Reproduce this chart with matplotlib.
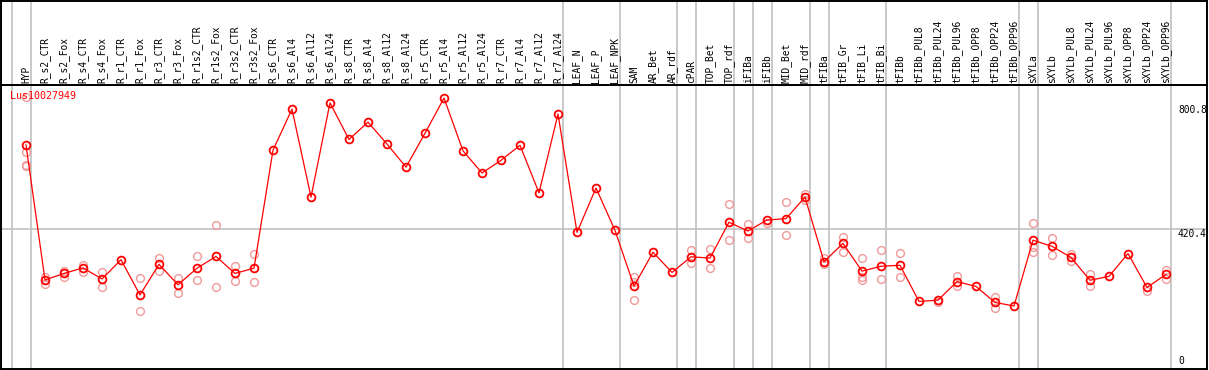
import matplotlib
matplotlib.use("Agg")
import matplotlib.pyplot as plt
import matplotlib.transforms as mtransforms

categories = ["HYP", "R_s2_CTR", "R_s2_Fox", "R_s4_CTR", "R_s4_Fox", "R_r1_CTR", "R_r1_Fox",
              "R_r3_CTR", "R_r3_Fox", "R_r1s2_CTR", "R_r1s2_Fox", "R_r3s2_CTR", "R_r3s2_Fox",
              "R_s6_CTR", "R_s6_Al4", "R_s6_Al12", "R_s6_Al24", "R_s8_CTR", "R_s8_Al4",
              "R_s8_Al12", "R_s8_Al24", "R_r5_CTR", "R_r5_Al4", "R_r5_Al12", "R_r5_Al24",
              "R_r7_CTR", "R_r7_Al4", "R_r7_Al12", "R_r7_Al24", "LEAF_N", "LEAF_P", "LEAF_NPK",
              "SAM", "AR_Bet", "AR_rdf", "cPAR", "TOP_Bet", "TOP_rdf", "iFIBa", "iFIBb",
              "MID_Bet", "MID_rdf", "tFIBa", "tFIB_Gr", "tFIB_Li", "tFIB_Bi", "tFIBb",
              "tFIBb_PUL8", "tFIBb_PUL24", "tFIBb_PUL96", "tFIBb_OPP8", "tFIBb_OPP24",
              "tFIBb_OPP96", "sXYLa", "sXYLb", "sXYLb_PUL8", "sXYLb_PUL24", "sXYLb_PUL96",
              "sXYLb_OPP8", "sXYLb_OPP24", "sXYLb_OPP96"]

mean_values = [678, 264, 284, 301, 267, 326, 218, 312, 249, 300, 336, 284, 300,
               662, 788, 518, 807, 695, 748, 681, 610, 714, 822, 660, 592, 631, 677, 531, 773,
               410, 546, 416, 245, 349, 287, 335, 331, 441, 414, 448, 452, 518,
               320, 376, 291, 306, 309, 198, 202, 259, 244, 195, 184,
               386, 367, 333, 263, 275, 345, 241, 281]

# replicate measurements (category index, value)
rep_index = [0, 0, 0, 0, 1, 1, 2, 2, 3, 3, 4, 4, 6, 6, 7, 7, 8, 8, 9, 9, 10, 10, 11, 11, 12, 12,
             32, 32, 32, 35, 35, 36, 36, 37, 37, 38, 38, 39, 40, 40, 41, 41, 42, 42, 43, 43,
             44, 44, 44, 45, 45, 46, 46, 48, 49, 49, 51, 51, 53, 53, 53, 54, 54, 55, 55,
             56, 56, 59, 60, 60]
rep_values = [825, 656, 615, 616, 274, 252, 292, 274, 311, 287, 287, 241, 269, 168, 331, 292,
              269, 224, 337, 263, 432, 241, 306, 260, 343, 257,
              272, 202, 259, 356, 317, 359, 300, 496, 387, 436, 392, 440, 502, 401, 528, 509,
              330, 313, 396, 349, 332, 272, 263, 355, 266, 346, 273, 195, 277, 245, 212, 179,
              438, 366, 351, 392, 339, 344, 322, 281, 245, 231, 295, 266]

separators = [-0.73, 0.27, 28.27, 31.27, 34.27, 35.27, 37.27, 38.27, 39.27, 41.27, 42.27,
              45.27, 52.27, 53.27, 60.27]
axis_labels = ["800.8", "420.4", "0"]
axis_label_values = [800.8, 420.4, 0]
title = "Lus10027949"

W, H = 1209, 370
fig = plt.figure(figsize=(W / 100, H / 100), dpi=100)
fig.patch.set_facecolor("white")

xlim = ((1 - 26) / 19.0, (1207 - 26) / 19.0)
header_px = 85
ax = fig.add_axes([1 / W, 1 / H, 1206 / W, (369 - header_px) / H])
hx = fig.add_axes([1 / W, (H - header_px) / H, 1206 / W, (header_px - 0.5) / H], sharex=ax)

mono = "DejaVu Sans Mono"
grid_c = "#c0c0c0"

for a in (ax, hx):
    a.set_xlim(*xlim)
    for s in a.spines.values():
        s.set_color("black")
        s.set_linewidth(1.4)
    a.tick_params(left=False, bottom=False, labelleft=False, labelbottom=False)
    for sx in separators:
        a.axvline(sx, color=grid_c, lw=1.2, zorder=0)

hx.set_ylim(0, 1)
ax.set_ylim(-9.2, 862)
ax.axhline(420.4, color=grid_c, lw=1.2, zorder=0)

xs = list(range(len(categories)))
ax.plot(rep_index, rep_values, linestyle="none", marker="o", markersize=5.6,
        markerfacecolor="none", markeredgecolor="#f09a9a", markeredgewidth=1.0, zorder=2)
ax.plot(xs, mean_values, color="#ff0000", lw=0.9, marker="o", markersize=5.6,
        markerfacecolor="none", markeredgecolor="#ff0000", markeredgewidth=1.3, zorder=3)

trans_h = mtransforms.blended_transform_factory(hx.transData, hx.transAxes)
for i, c in enumerate(categories):
    hx.text(i, 2.5 / header_px, c, rotation=90, ha="center", va="bottom",
            fontsize=6.9, family=mono, color="black", transform=trans_h)

label_x = (1178 - 26) / 19.0
for lab, v in zip(axis_labels, axis_label_values):
    if v == 0:
        ax.text(label_x, 0, lab, ha="left", va="bottom", fontsize=6.9, family=mono, color="black")
    else:
        ax.text(label_x, v, lab, ha="left", va="top", fontsize=6.9, family=mono, color="black")

ax.text(9 / 1206, 1 - 6 / (369 - header_px), title, transform=ax.transAxes, ha="left", va="top",
        fontsize=7.2, family=mono, color="#ff0000", zorder=4)

fig.savefig("out.png", dpi=100, facecolor="white")
